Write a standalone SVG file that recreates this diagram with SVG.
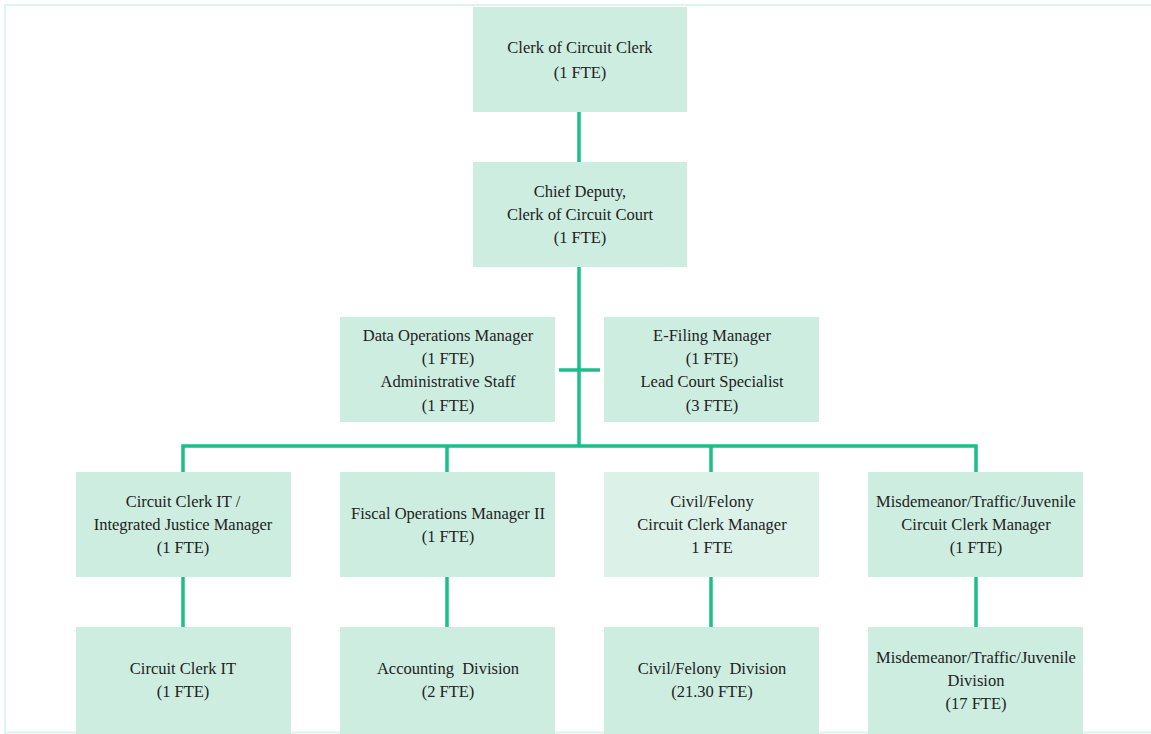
<svg xmlns="http://www.w3.org/2000/svg" width="1151" height="734" viewBox="0 0 1151 734">
<style>
.box{fill:#cdede0;}
.light{fill:#dcf2e9;}
.t{font-family:"Liberation Serif","Times New Roman",serif;font-size:16.5px;fill:#222;text-anchor:middle;}
.c{stroke:#1abf8b;stroke-width:3.5;fill:none;}
.frame{stroke:#dff4ec;stroke-width:2;fill:none;}
</style>
<rect width="1151" height="734" fill="#ffffff"/>
<path class="frame" d="M5,734 V5 H1151"/>
<path class="frame" d="M5,732.5 H1151" stroke-width="1"/>
<g id="connectors">
<line class="c" x1="579" y1="112" x2="579" y2="162"/>
<line class="c" x1="579" y1="267" x2="579" y2="447"/>
<line class="c" x1="559" y1="370" x2="600" y2="370"/>
<polyline class="c" points="183,472 183,446 976,446 976,472"/>
<line class="c" x1="447" y1="446" x2="447" y2="472"/>
<line class="c" x1="711" y1="446" x2="711" y2="472"/>
<line class="c" x1="183" y1="577" x2="183" y2="627"/>
<line class="c" x1="447" y1="577" x2="447" y2="627"/>
<line class="c" x1="711" y1="577" x2="711" y2="627"/>
<line class="c" x1="976" y1="577" x2="976" y2="627"/>
</g>
<g id="n-clerk">
<rect class="box" x="473" y="7" width="214" height="105"/>
<text class="t" x="580" y="53">Clerk of Circuit Clerk</text>
<text class="t" x="580" y="78">(1 FTE)</text>
</g>
<g id="n-chief">
<rect class="box" x="473" y="162" width="214" height="105"/>
<text class="t" x="580" y="197">Chief Deputy,</text>
<text class="t" x="580" y="220">Clerk of Circuit Court</text>
<text class="t" x="580" y="243">(1 FTE)</text>
</g>
<g id="n-dataops">
<rect class="box" x="340" y="317" width="215" height="105"/>
<text class="t" x="448" y="341">Data Operations Manager</text>
<text class="t" x="448" y="364">(1 FTE)</text>
<text class="t" x="448" y="387">Administrative Staff</text>
<text class="t" x="448" y="411">(1 FTE)</text>
</g>
<g id="n-efiling">
<rect class="box" x="604" y="317" width="215" height="105"/>
<text class="t" x="712" y="341">E-Filing Manager</text>
<text class="t" x="712" y="364">(1 FTE)</text>
<text class="t" x="712" y="387">Lead Court Specialist</text>
<text class="t" x="712" y="411">(3 FTE)</text>
</g>
<g id="n-itmgr">
<rect class="box" x="76" y="472" width="215" height="105"/>
<text class="t" x="183" y="507">Circuit Clerk IT /</text>
<text class="t" x="183" y="530">Integrated Justice Manager</text>
<text class="t" x="183" y="553">(1 FTE)</text>
</g>
<g id="n-fiscal">
<rect class="box" x="340" y="472" width="215" height="105"/>
<text class="t" x="448" y="519">Fiscal Operations Manager II</text>
<text class="t" x="448" y="542">(1 FTE)</text>
</g>
<g id="n-civilmgr">
<rect class="light" x="604" y="472" width="215" height="105"/>
<text class="t" x="712" y="507">Civil/Felony</text>
<text class="t" x="712" y="530">Circuit Clerk Manager</text>
<text class="t" x="712" y="553">1 FTE</text>
</g>
<g id="n-misdmgr">
<rect class="box" x="868" y="472" width="215" height="105"/>
<text class="t" x="976" y="507">Misdemeanor/Traffic/Juvenile</text>
<text class="t" x="976" y="530">Circuit Clerk Manager</text>
<text class="t" x="976" y="553">(1 FTE)</text>
</g>
<g id="n-it">
<rect class="box" x="76" y="627" width="215" height="107"/>
<text class="t" x="183" y="674">Circuit Clerk IT</text>
<text class="t" x="183" y="697">(1 FTE)</text>
</g>
<g id="n-accounting">
<rect class="box" x="340" y="627" width="215" height="107"/>
<text class="t" x="448" y="674" xml:space="preserve">Accounting  Division</text>
<text class="t" x="448" y="697">(2 FTE)</text>
</g>
<g id="n-civil">
<rect class="box" x="604" y="627" width="215" height="107"/>
<text class="t" x="712" y="674" xml:space="preserve">Civil/Felony  Division</text>
<text class="t" x="712" y="697">(21.30 FTE)</text>
</g>
<g id="n-misd">
<rect class="box" x="868" y="627" width="215" height="107"/>
<text class="t" x="976" y="663">Misdemeanor/Traffic/Juvenile</text>
<text class="t" x="976" y="686">Division</text>
<text class="t" x="976" y="709">(17 FTE)</text>
</g>
</svg>
